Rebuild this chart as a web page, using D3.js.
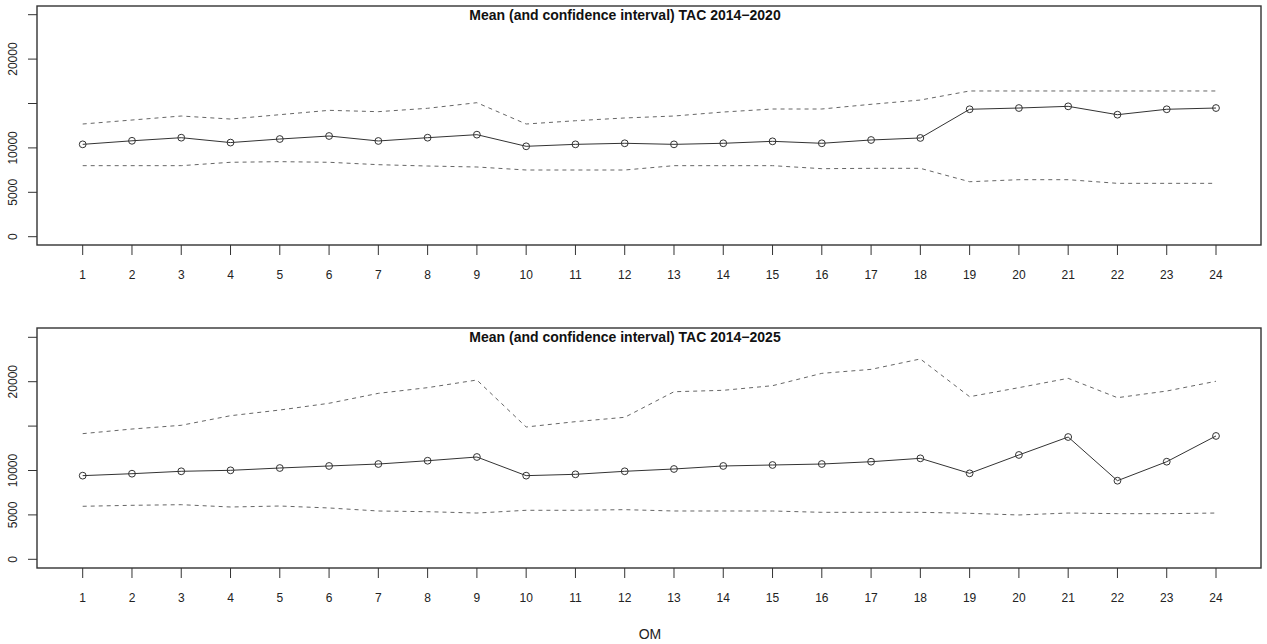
<!DOCTYPE html>
<html>
<head>
<meta charset="utf-8">
<script src="https://cdn.jsdelivr.net/npm/d3@7"></script>
<style>
  html, body { margin: 0; padding: 0; background: #fff; }
  svg { display: block; font-family: "Liberation Sans", Arial, sans-serif; }
</style>
</head>
<body>
<svg id="chart" width="1267" height="644"></svg>
<script>
// Operating models on the x axis
const oms = d3.range(1, 25);
const yTicks = [0, 5000, 10000, 15000, 20000, 25000];
const yLabels = ["0", "5000", "10000", "", "20000", ""];

// TAC 2014-2020: mean and confidence bounds per OM
const mean2020 = [10400, 10800, 11150, 10600, 11000, 11340, 10780, 11150, 11490, 10180, 10400, 10520,
                  10400, 10520, 10740, 10520, 10890, 11120, 14350, 14490, 14680, 13740, 14350, 14490];
const upper2020 = [12690, 13140, 13590, 13250, 13740, 14230, 14080, 14460, 15090, 12690, 13060, 13370,
                   13590, 14040, 14380, 14380, 14910, 15390, 16410, 16410, 16410, 16410, 16410, 16410];
const lower2020 = [8000, 8000, 8000, 8380, 8450, 8380, 8110, 7960, 7850, 7510, 7510, 7510,
                   8000, 8000, 8000, 7660, 7700, 7700, 6190, 6420, 6420, 6010, 6010, 6010];

// TAC 2014-2025: mean and confidence bounds per OM
const mean2025 = [9420, 9640, 9910, 10020, 10280, 10510, 10730, 11100, 11520, 9420, 9570, 9910,
                  10170, 10510, 10620, 10730, 10990, 11370, 9680, 11750, 13770, 8850, 10990, 13890];
const upper2025 = [14150, 14670, 15090, 16170, 16810, 17570, 18690, 19330, 20190, 14900, 15500, 15990,
                   18870, 19030, 19550, 20940, 21390, 22560, 18310, 19330, 20380, 18200, 18950, 20050];
const lower2025 = [5970, 6080, 6150, 5890, 6000, 5780, 5440, 5360, 5210, 5520, 5520, 5590,
                   5440, 5440, 5440, 5290, 5290, 5290, 5180, 4990, 5210, 5140, 5140, 5210];

const svg = d3.select("#chart");
const boxLeft = 37, boxRight = 1261;
const x = d3.scaleLinear().domain([1, 24]).range([82.7, 1216]);

function panel(opts) {
  const { top, bottom, y0, title, titleY, labelY, mean, upper, lower } = opts;
  const y = d3.scaleLinear().domain([0, 25000]).range([y0, y0 - 222]);
  const g = svg.append("g");

  // confidence bounds
  const line = d3.line().x((d, i) => x(oms[i])).y(d => y(d));
  [upper, lower].forEach(arr => {
    g.append("path").datum(arr).attr("d", line)
      .attr("fill", "none").attr("stroke", "#666").attr("stroke-width", 1)
      .attr("stroke-dasharray", "4,4");
  });

  // mean line with open circles
  g.append("path").datum(mean).attr("d", line)
    .attr("fill", "none").attr("stroke", "#333").attr("stroke-width", 1);
  g.selectAll("circle").data(mean).join("circle")
    .attr("cx", (d, i) => x(oms[i])).attr("cy", d => y(d)).attr("r", 3.4)
    .attr("fill", "none").attr("stroke", "#333").attr("stroke-width", 1);

  // y axis ticks and rotated labels
  g.selectAll("line.yt").data(yTicks).join("line").attr("class", "yt")
    .attr("x1", boxLeft - 9).attr("x2", boxLeft)
    .attr("y1", d => y(d)).attr("y2", d => y(d))
    .attr("stroke", "#333").attr("stroke-width", 1);
  g.selectAll("text.yl").data(yTicks).join("text").attr("class", "yl")
    .attr("transform", d => `translate(17,${y(d)}) rotate(-90)`)
    .attr("text-anchor", "middle").attr("font-size", 12).attr("fill", "#222")
    .text((d, i) => yLabels[i]);

  // x axis ticks and labels
  g.selectAll("line.xt").data(oms).join("line").attr("class", "xt")
    .attr("x1", d => x(d)).attr("x2", d => x(d))
    .attr("y1", bottom).attr("y2", bottom + 10)
    .attr("stroke", "#333").attr("stroke-width", 1);
  g.selectAll("text.xl").data(oms).join("text").attr("class", "xl")
    .attr("x", d => x(d)).attr("y", labelY)
    .attr("text-anchor", "middle").attr("font-size", 12).attr("fill", "#222")
    .text(d => d);

  // plot frame
  g.append("rect").attr("x", boxLeft).attr("y", top)
    .attr("width", boxRight - boxLeft).attr("height", bottom - top)
    .attr("fill", "none").attr("stroke", "#333").attr("stroke-width", 1.4);

  // title
  g.append("text").attr("x", 625).attr("y", titleY)
    .attr("text-anchor", "middle").attr("font-size", 14).attr("font-weight", "bold")
    .attr("fill", "#111").text(title);
}

panel({ top: 6, bottom: 245, y0: 236.7, title: "Mean (and confidence interval) TAC 2014\u22122020",
        titleY: 19.5, labelY: 279, mean: mean2020, upper: upper2020, lower: lower2020 });
panel({ top: 328, bottom: 568, y0: 559.3, title: "Mean (and confidence interval) TAC 2014\u22122025",
        titleY: 341.5, labelY: 601.5, mean: mean2025, upper: upper2025, lower: lower2025 });

svg.append("text").attr("x", 650).attr("y", 638.5)
  .attr("text-anchor", "middle").attr("font-size", 14).attr("fill", "#222").text("OM");
</script>
</body>
</html>
